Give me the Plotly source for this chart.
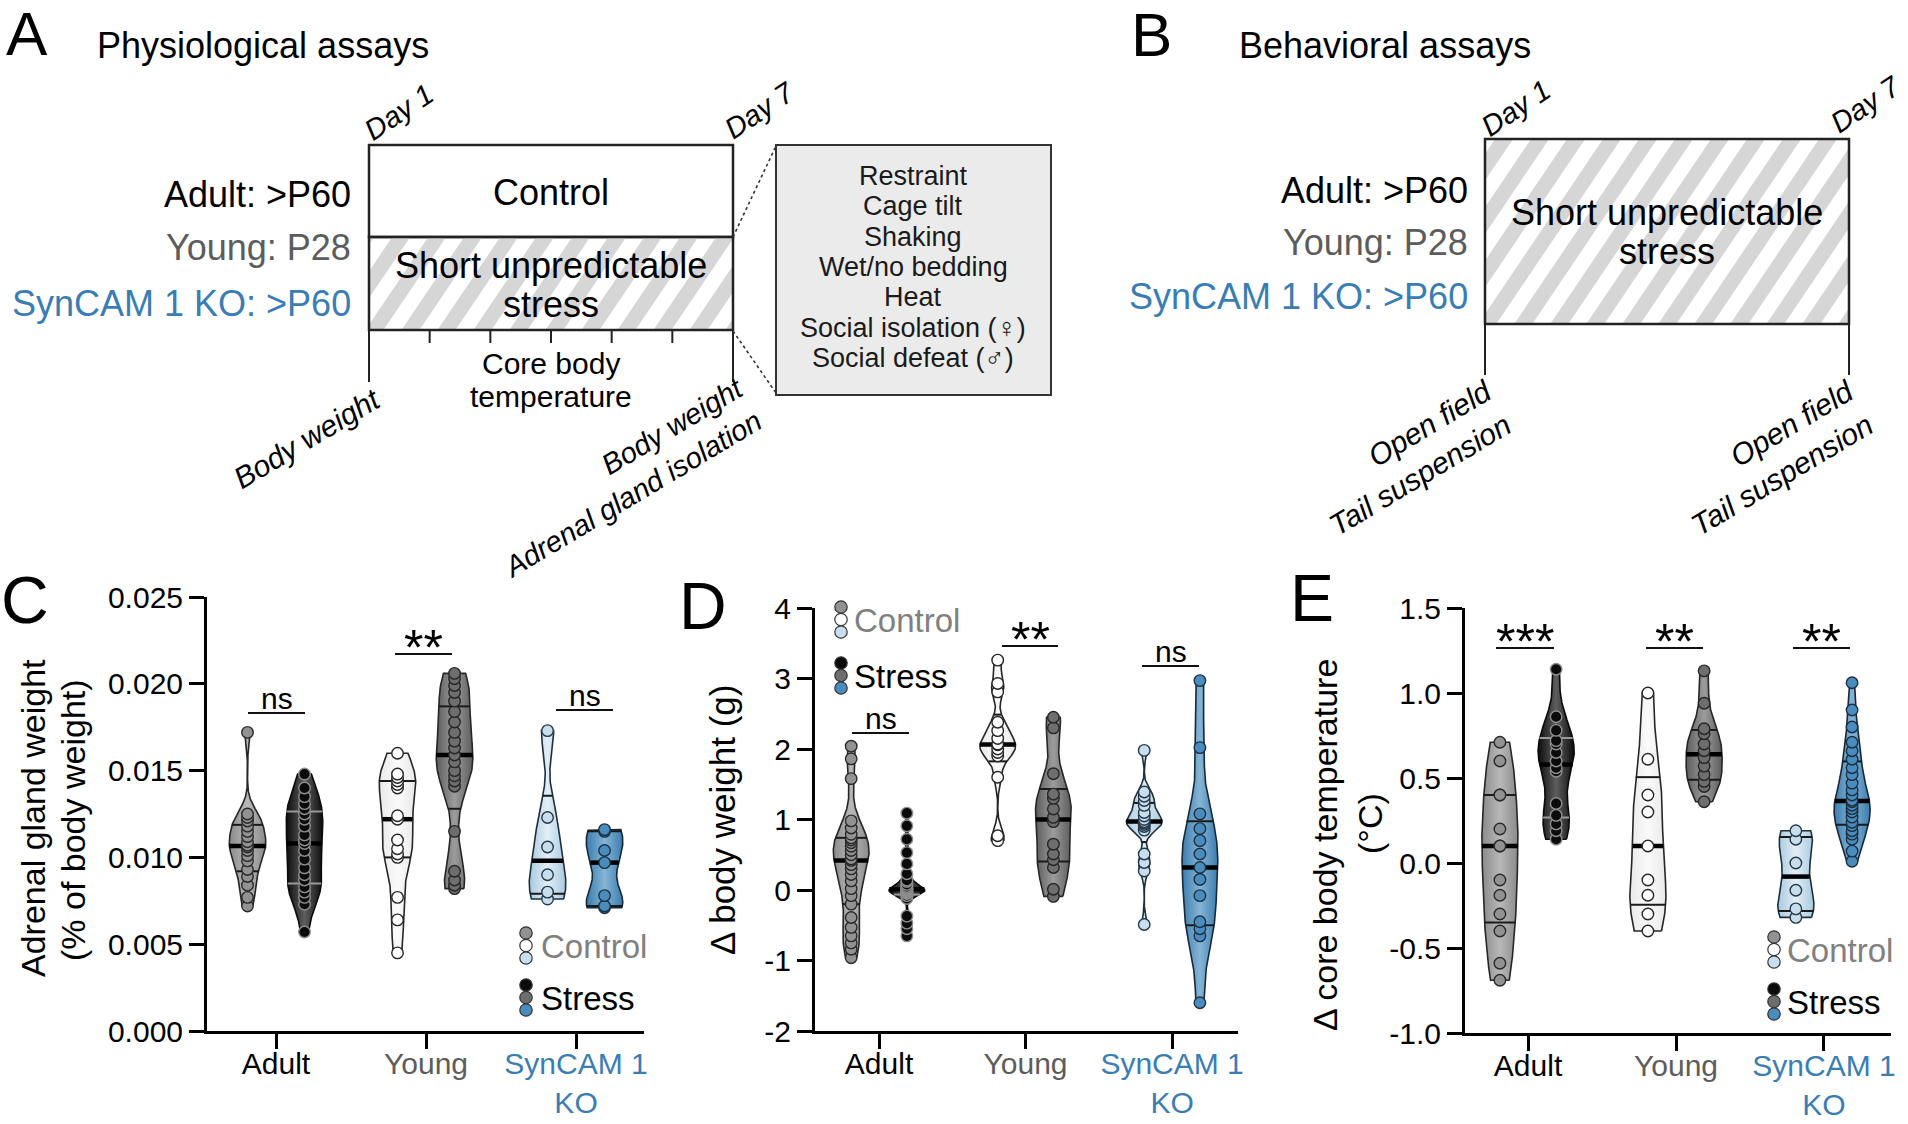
import numpy as np
import plotly.graph_objects as go

W, H = 1908, 1124
FONT = "Liberation Sans, Arial, Helvetica, sans-serif"
BLUE_TXT = "#3a7db2"
GRAY_TXT = "#5c5c5c"

# ------------------------------------------------------------------ data
groups = ["Adult", "Young", "SynCAM 1 KO"]
x_ticktext = ["Adult",
              f'<span style="color:{GRAY_TXT}">Young</span>',
              f'<span style="color:{BLUE_TXT}">SynCAM 1<br>KO</span>']

# C: adrenal gland weight (% of body weight)
adrenal_adult_control = [0.0072, 0.0077, 0.0084, 0.0089, 0.0093, 0.0098, 0.0101, 0.0104, 0.0106,
                         0.0107, 0.0109, 0.0112, 0.0115, 0.0118, 0.0121, 0.0123, 0.0125, 0.0172]
adrenal_adult_stress = [0.0057, 0.0073, 0.0077, 0.0080, 0.0083, 0.0087, 0.0090, 0.0094, 0.0099,
                        0.0104, 0.0108, 0.0110, 0.0113, 0.0118, 0.0122, 0.0125, 0.0128, 0.0131,
                        0.0135, 0.0140, 0.0148]
adrenal_young_control = [0.0045, 0.0064, 0.0077, 0.0100, 0.0102, 0.0105, 0.0110, 0.0122, 0.0124,
                         0.0140, 0.0142, 0.0144, 0.0146, 0.0148, 0.0160]
adrenal_young_stress = [0.0082, 0.0084, 0.0087, 0.0092, 0.0115, 0.0141, 0.0144, 0.0147, 0.0150,
                        0.0155, 0.0159, 0.0163, 0.0167, 0.0172, 0.0178, 0.0184, 0.0190, 0.0195,
                        0.0199, 0.0203, 0.0206]
adrenal_ko_control = [0.0076, 0.0080, 0.0090, 0.0106, 0.0123, 0.0173]
adrenal_ko_stress = [0.0071, 0.0072, 0.0078, 0.0097, 0.0104, 0.0115, 0.0116]

# D: delta body weight (g)
bw_adult_control = [-0.96, -0.84, -0.75, -0.65, -0.53, -0.39, -0.20, -0.08, 0.02, 0.13, 0.22, 0.30,
                    0.36, 0.42, 0.44, 0.50, 0.56, 0.62, 0.67, 0.71, 0.74, 0.79, 0.88, 0.98, 1.58,
                    1.86, 2.04]
bw_adult_stress = [-0.65, -0.55, -0.47, -0.37, -0.12, -0.08, -0.05, -0.04, -0.03, -0.02, -0.01,
                   0.00, 0.01, 0.02, 0.03, 0.05, 0.08, 0.12, 0.14, 0.23, 0.37, 0.53, 0.72, 0.91, 1.09]
bw_young_control = [0.70, 0.77, 1.60, 1.90, 1.95, 2.00, 2.06, 2.07, 2.15, 2.26, 2.38, 2.81, 2.93, 3.26]
bw_young_stress = [-0.09, 0.01, 0.32, 0.43, 0.51, 0.65, 0.97, 1.03, 1.15, 1.30, 1.36, 1.65, 2.30, 2.45]
bw_ko_control = [-0.49, 0.27, 0.39, 0.51, 0.85, 0.90, 0.93, 0.95, 0.97, 1.00, 1.05, 1.10, 1.20,
                 1.27, 1.33, 1.39, 1.98]
bw_ko_stress = [-1.60, -0.65, -0.55, -0.45, -0.08, 0.15, 0.32, 0.51, 0.70, 0.87, 1.08, 2.02, 2.97]

# E: delta core body temperature (deg C)
temp_adult_control = [-0.69, -0.59, -0.40, -0.30, -0.19, -0.10, 0.10, 0.10, 0.20, 0.40, 0.40, 0.60, 0.71]
temp_adult_stress = [0.14, 0.19, 0.23, 0.28, 0.35, 0.54, 0.56, 0.60, 0.65, 0.70, 0.72, 0.78, 0.86, 1.14]
temp_young_control = [-0.40, -0.30, -0.19, -0.10, 0.10, 0.30, 0.40, 0.61, 1.00]
temp_young_stress = [0.36, 0.45, 0.48, 0.52, 0.57, 0.62, 0.66, 0.70, 0.76, 0.79, 0.94, 1.13]
temp_ko_control = [-0.32, -0.27, -0.16, 0.00, 0.14, 0.19]
temp_ko_stress = [0.01, 0.07, 0.14, 0.17, 0.19, 0.22, 0.24, 0.27, 0.30, 0.32, 0.34, 0.36, 0.37,
                  0.40, 0.43, 0.47, 0.52, 0.56, 0.61, 0.66, 0.71, 0.80, 0.90, 1.06]

c_tickvals = [0, 0.005, 0.010, 0.015, 0.020, 0.025]
c_ticktext = ["0.000", "0.005", "0.010", "0.015", "0.020", "0.025"]
d_tickvals = [-2, -1, 0, 1, 2, 3, 4]
d_ticktext = ["-2", "-1", "0", "1", "2", "3", "4"]
e_tickvals = [-1.0, -0.5, 0.0, 0.5, 1.0, 1.5]
e_ticktext = ["-1.0", "-0.5", "0.0", "0.5", "1.0", "1.5"]

callout_lines = ["Restraint", "Cage tilt", "Shaking", "Wet/no bedding", "Heat",
                 "Social isolation (\u2640)", "Social defeat (\u2642)"]

# ------------------------------------------------------------------ styles
STYLES = {
    "adult_control": dict(edge="#8a8a8a", mid="#b8b8b8", outline="#262626", pt="#929292", ptl="#2a2a2a", q="#1a1a1a"),
    "adult_stress": dict(edge="#0c0c0c", mid="#5e5e5e", outline="#0a0a0a", pt="#0b0b0b", ptl="#8e8e8e", q="#9a9a9a"),
    "young_control": dict(edge="#e9e9e9", mid="#fafafa", outline="#262626", pt="#ffffff", ptl="#262626", q="#1a1a1a"),
    "young_stress": dict(edge="#5c5c5c", mid="#9c9c9c", outline="#262626", pt="#6e6e6e", ptl="#262626", q="#1a1a1a"),
    "ko_control": dict(edge="#a8c9df", mid="#e2eef6", outline="#1d2f3c", pt="#c8deed", ptl="#24394a", q="#1a1a1a"),
    "ko_stress": dict(edge="#3b7cae", mid="#86b5d6", outline="#17293a", pt="#4b8cbe", ptl="#1b3142", q="#1a1a1a"),
}
OFF = 0.19       # half distance between control & stress violins (category units)
HALF = 0.122     # max half width of a violin (category units)

fig = go.Figure()


def kde(v, ys, factor=0.8):
    v = np.asarray(v, float)
    n = len(v)
    sd = v.std(ddof=1)
    iqr = np.subtract(*np.percentile(v, [75, 25]))
    s = min(sd, iqr / 1.34) if iqr > 0 else sd
    h = 0.9 * s * n ** -0.2 * factor
    ys = np.atleast_1d(np.asarray(ys, float))
    return np.exp(-0.5 * ((ys[:, None] - v[None, :]) / h) ** 2).sum(1)


def add_violin(xa, ya, center, vals, st):
    v = np.sort(np.asarray(vals, float))
    ys = np.linspace(v[0], v[-1], 260)
    d = kde(v, ys)
    dmax = d.max()
    hw = HALF * d / dmax
    xs = np.concatenate([center + hw, (center - hw)[::-1], [center + hw[0]]])
    yy = np.concatenate([ys, ys[::-1], [ys[0]]])
    s = STYLES[st]
    fig.add_trace(go.Scatter(
        x=xs, y=yy, mode="lines", fill="toself",
        fillgradient=dict(type="horizontal",
                          colorscale=[[0, s["edge"]], [0.5, s["mid"]], [1, s["edge"]]]),
        line=dict(color=s["outline"], width=1.6), xaxis=xa, yaxis=ya, hoverinfo="skip"))
    q1, med, q3 = np.percentile(v, [25, 50, 75], method="weibull")
    qx, qy = [], []
    for q in (q1, q3):
        w = HALF * kde(v, [q])[0] / dmax
        qx += [center - w, center + w, None]
        qy += [q, q, None]
    fig.add_trace(go.Scatter(x=qx, y=qy, mode="lines", line=dict(color=s["q"], width=2),
                             xaxis=xa, yaxis=ya, hoverinfo="skip"))
    wm = HALF * kde(v, [med])[0] / dmax
    fig.add_trace(go.Scatter(x=[center - wm, center + wm], y=[med, med], mode="lines",
                             line=dict(color="#000000", width=4.5), xaxis=xa, yaxis=ya, hoverinfo="skip"))
    fig.add_trace(go.Scatter(x=[center] * len(v), y=v, mode="markers",
                             marker=dict(size=11.5, color=s["pt"], line=dict(color=s["ptl"], width=1.4)),
                             xaxis=xa, yaxis=ya, hoverinfo="skip"))


panels = [
    ("x", "y", [adrenal_adult_control, adrenal_young_control, adrenal_ko_control],
     [adrenal_adult_stress, adrenal_young_stress, adrenal_ko_stress]),
    ("x2", "y2", [bw_adult_control, bw_young_control, bw_ko_control],
     [bw_adult_stress, bw_young_stress, bw_ko_stress]),
    ("x3", "y3", [temp_adult_control, temp_young_control, temp_ko_control],
     [temp_adult_stress, temp_young_stress, temp_ko_stress]),
]
keys = ["adult", "young", "ko"]
for xa, ya, ctrl, stres in panels:
    for i, k in enumerate(keys):
        add_violin(xa, ya, i - OFF, ctrl[i], k + "_control")
        add_violin(xa, ya, i + OFF, stres[i], k + "_stress")


# ------------------------------------------------------------------ axes
def px(x):
    return x / W


def py(y):
    return 1 - y / H


axis_common = dict(showline=True, linecolor="black", linewidth=3, ticks="outside", ticklen=15,
                   tickwidth=3, tickcolor="black", showgrid=False, zeroline=False,
                   automargin=False, fixedrange=True)
yfont = dict(family=FONT, size=30, color="black")
xfont = dict(family=FONT, size=30, color="black")
xextra = dict(tickvals=[0, 1, 2], ticktext=x_ticktext, tickfont=xfont, ticklabelstandoff=-11)

fig.update_layout(
    template="none",
    width=W, height=H, margin=dict(l=0, r=0, t=0, b=0, pad=0, autoexpand=False),
    paper_bgcolor="white", plot_bgcolor="rgba(0,0,0,0)", showlegend=False,
    font=dict(family=FONT, color="black"),
    xaxis=dict(domain=[px(207), px(644)], range=[-0.46, 2.453], anchor="y", **xextra, **axis_common),
    yaxis=dict(domain=[py(1031), py(597)], range=[0, 0.025], anchor="x",
               tickvals=c_tickvals, ticktext=c_ticktext, tickfont=yfont, **axis_common),
    xaxis2=dict(domain=[px(815), px(1238)], range=[-0.437, 2.45], anchor="y2", **xextra, **axis_common),
    yaxis2=dict(domain=[py(1031), py(608)], range=[-2, 4], anchor="x2",
                tickvals=d_tickvals, ticktext=d_ticktext, tickfont=yfont, **axis_common),
    xaxis3=dict(domain=[px(1465), px(1891)], range=[-0.426, 2.453], anchor="y3", **xextra, **axis_common),
    yaxis3=dict(domain=[py(1033), py(608)], range=[-1.0, 1.5], anchor="x3",
                tickvals=e_tickvals, ticktext=e_ticktext, tickfont=yfont, **axis_common),
)

annotations = []
shapes = []


def ann(text, x, y, size, color="black", angle=0, xanchor="center", yanchor="middle", align="center"):
    annotations.append(dict(text=text, x=px(x), y=py(y), xref="paper", yref="paper",
                            showarrow=False, xanchor=xanchor, yanchor=yanchor, textangle=angle,
                            align=align, font=dict(family=FONT, size=size, color=color)))


def line(x0, y0, x1, y1, color="#222222", width=2.5, dash="solid"):
    shapes.append(dict(type="line", xref="paper", yref="paper", x0=px(x0), y0=py(y0),
                       x1=px(x1), y1=py(y1), line=dict(color=color, width=width, dash=dash)))


def rect(x0, y0, x1, y1, fill="rgba(0,0,0,0)", color="#222222", width=2.5):
    shapes.append(dict(type="rect", xref="paper", yref="paper", x0=px(x0), y0=py(y0),
                       x1=px(x1), y1=py(y1), fillcolor=fill, line=dict(color=color, width=width)))


def circle(cx, cy, r, fill, color="#333333", width=1.2):
    shapes.append(dict(type="circle", xref="paper", yref="paper", x0=px(cx - r), y0=py(cy + r),
                       x1=px(cx + r), y1=py(cy - r), fillcolor=fill, line=dict(color=color, width=width)))


def clip_poly(poly, a, b, c):
    out = []
    n = len(poly)
    for i in range(n):
        P, Q = poly[i], poly[(i + 1) % n]
        fp = a * P[0] + b * P[1] - c
        fq = a * Q[0] + b * Q[1] - c
        if fp <= 0:
            out.append(P)
        if (fp <= 0) != (fq <= 0):
            t = fp / (fp - fq)
            out.append((P[0] + t * (Q[0] - P[0]), P[1] + t * (Q[1] - P[1])))
    return out


def hatch(x0, y0, x1, y1, period_x=36, frac=0.5, angle=56, phase=0.0, color="#d6d6d6"):
    th = np.radians(angle)
    s, c = np.sin(th), np.cos(th)
    pu = period_x * s
    us = [x * s + y * c for x in (x0, x1) for y in (y0, y1)]
    umin, umax = min(us), max(us)
    k = int(np.floor((umin - phase) / pu)) - 1
    base = [(x0, y0), (x1, y0), (x1, y1), (x0, y1)]
    while phase + k * pu < umax:
        a = phase + k * pu
        b = a + frac * pu
        poly = clip_poly(base, -s, -c, -a)
        poly = clip_poly(poly, s, c, b)
        if len(poly) >= 3:
            path = "M " + " L ".join(f"{px(p[0]):.5f},{py(p[1]):.5f}" for p in poly) + " Z"
            shapes.append(dict(type="path", xref="paper", yref="paper", path=path,
                               fillcolor=color, line=dict(width=0)))
        k += 1


ROT = -31

# ------------------------------------------------------------------ panel A
ann("A", 27, 33, 62)
ann("Physiological assays", 95, 45, 36, xanchor="left")
rect(369, 145, 733, 237, fill="white")
hatch(369, 237, 733, 330, phase=10)
rect(369, 237, 733, 330)
line(369, 330, 369, 382, width=2)
line(733, 330, 733, 382, width=2)
for k in range(1, 6):
    xk = 369 + k * (733 - 369) / 6
    line(xk, 330, xk, 343, width=2)
ann("Control", 551, 192, 36)
ann("Short unpredictable", 551, 265, 36)
ann("stress", 551, 305, 36)
ann("Adult: >P60", 353, 195, 36, xanchor="right")
ann("Young: P28", 353, 247, 36, color=GRAY_TXT, xanchor="right")
ann("SynCAM 1 KO: >P60", 353, 303, 36, color=BLUE_TXT, xanchor="right")
ann("<i>Day 1</i>", 399, 112, 29, angle=-34)
ann("<i>Day 7</i>", 760, 110, 29, angle=-34)
ann("<i>Body weight</i>", 307, 439, 30, angle=ROT)
ann("Core body", 551, 363, 30)
ann("temperature", 551, 396, 30)
ann("<i>Body weight<br>Adrenal gland isolation</i>", 623, 478, 29, angle=ROT, align="right")
line(733, 237, 776, 146, color="#333333", width=1.6, dash="dot")
line(733, 331, 776, 393, color="#333333", width=1.6, dash="dot")
rect(776, 145, 1051, 395, fill="#ebebeb", color="#333333", width=2)
for i, t in enumerate(callout_lines):
    ann(t, 913, 176 + i * 30.3, 27, color="#1a1a1a")

# ------------------------------------------------------------------ panel B
ann("B", 1151, 35, 62)
ann("Behavioral assays", 1237, 45, 36, xanchor="left")
hatch(1485, 139, 1849, 324, phase=4)
rect(1485, 139, 1849, 324)
line(1485, 324, 1485, 375, width=2)
line(1849, 324, 1849, 375, width=2)
ann("Short unpredictable", 1667, 213, 36)
ann("stress", 1667, 251, 36)
ann("Adult: >P60", 1470, 190, 36, xanchor="right")
ann("Young: P28", 1470, 242, 36, color=GRAY_TXT, xanchor="right")
ann("SynCAM 1 KO: >P60", 1470, 296, 36, color=BLUE_TXT, xanchor="right")
ann("<i>Day 1</i>", 1516, 108, 29, angle=-34)
ann("<i>Day 7</i>", 1866, 104, 29, angle=-34)
ann("<i>Open field<br>Tail suspension</i>", 1410, 458, 30, angle=ROT, align="right")
ann("<i>Open field<br>Tail suspension</i>", 1772, 458, 30, angle=ROT, align="right")

# ------------------------------------------------------------------ panel letters & titles
ann("C", 25, 600, 66)
ann("D", 703, 606, 66)
ann("E", 1312, 598, 66)
ann("Adrenal gland weight", 33, 818, 34, angle=-90)
ann("(% of body weight)", 73, 820, 34, angle=-90)
ann("\u0394 body weight (g)", 722, 820, 35, angle=-90)
ann("\u0394 core body temperature", 1325, 845, 34, angle=-90)
ann("(\u00b0C)", 1370, 824, 34, angle=-90)

# significance bars
sig = [  # (x0, x1, y_line, label)
    (248, 305, 713, "ns"), (395, 452, 654, "**"), (556, 613, 710, "ns"),
    (852, 909, 733, "ns"), (1002, 1058, 646, "**"), (1142, 1199, 666, "ns"),
    (1496, 1554, 648, "***"), (1646, 1703, 648, "**"), (1793, 1850, 648, "**"),
]
for x0, x1, yl, lab in sig:
    line(x0, yl, x1, yl, color="#111111", width=2)
    if lab == "ns":
        ann("ns", (x0 + x1) / 2, yl - 15, 30)
    else:
        ann(lab, (x0 + x1) / 2, yl - 6, 50)

# legends
ctrl_cols = ["#929292", "#ffffff", "#c8deed"]
str_cols = ["#0b0b0b", "#6e6e6e", "#4b8cbe"]
for cx, cyc, cys, tx in [(526, 933, 985, 539), (841, 607, 663, 852), (1774, 937, 989, 1785)]:
    for j in range(3):
        circle(cx, cyc + j * 12.5, 6.2, ctrl_cols[j])
    for j in range(3):
        circle(cx, cys + j * 12.5, 6.2, str_cols[j])
    ann("Control", tx, cyc + 13, 33, color="#808080", xanchor="left")
    ann("Stress", tx, cys + 13, 33, color="black", xanchor="left")

fig.update_layout(annotations=annotations, shapes=shapes)
fig.write_html("out.html", config={"displayModeBar": False},
               post_script="document.body.style.margin='0px';")
